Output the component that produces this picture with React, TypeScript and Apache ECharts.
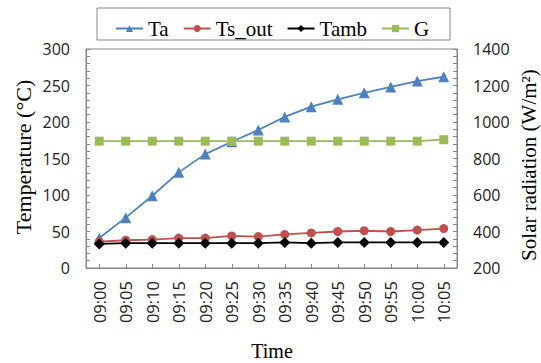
import React, { useEffect, useRef } from "react";
import * as echarts from "echarts";

const categories = ["09:00", "09:05", "09:10", "09:15", "09:20", "09:25", "09:30", "09:35", "09:40", "09:45", "09:50", "09:55", "10:00", "10:05"];
const ta = [41, 69, 99, 131, 156, 173, 189, 207, 221, 231, 240, 248, 256, 262];
const tsOut = [36, 38, 39, 41, 41, 44, 43, 46, 48, 50, 51, 50, 52, 54];
const tamb = [33, 34, 34, 34, 34, 34, 34, 35, 34, 35, 35, 35, 35, 35];
const g = [895, 895, 895, 895, 895, 895, 895, 895, 895, 895, 895, 895, 895, 903];

const serif = "'Liberation Serif', 'Times New Roman', serif";
const sans = "'Open Sans', 'Liberation Sans', sans-serif";
const axisGray = "#868686";

export default function App() {
  const ref = useRef<HTMLDivElement>(null);
  useEffect(() => {
    if (!ref.current) return;
    const chart = echarts.init(ref.current, null, { renderer: "svg" });
    const tickCommon = { show: true, inside: true, length: 4, lineStyle: { color: axisGray } };
    chart.setOption({
      animation: false,
      backgroundColor: "#fff",
      grid: { left: 86, right: 84, top: 49, bottom: 95, show: true, borderColor: axisGray, borderWidth: 1 },
      legend: {
        left: 110,
        top: 13,
        itemWidth: 27,
        itemHeight: 9,
        itemGap: 14,
        textStyle: { fontFamily: serif, fontSize: 21, color: "#000" },
        data: ["Ta", "Ts_out", "Tamb", "G"],
      },
      xAxis: {
        type: "category",
        data: categories,
        boundaryGap: true,
        axisLine: { lineStyle: { color: axisGray } },
        axisTick: { ...tickCommon, alignWithLabel: true },
        axisLabel: { rotate: 90, fontFamily: sans, fontSize: 16.5, color: "#222", margin: 13, interval: 0 },
      },
      yAxis: [
        {
          type: "value",
          min: 0,
          max: 300,
          interval: 50,
          axisLine: { show: true, lineStyle: { color: axisGray } },
          axisTick: tickCommon,
          minorTick: { show: true, splitNumber: 5, length: 4, lineStyle: { color: axisGray } },
          splitLine: { show: false },
          axisLabel: { fontFamily: sans, fontSize: 16, color: "#222", margin: 16 },
        },
        {
          type: "value",
          min: 200,
          max: 1400,
          interval: 200,
          position: "right",
          axisLine: { show: true, lineStyle: { color: axisGray } },
          axisTick: tickCommon,
          minorTick: { show: true, splitNumber: 5, length: 4, lineStyle: { color: axisGray } },
          splitLine: { show: false },
          axisLabel: { fontFamily: sans, fontSize: 16, color: "#222", margin: 16, formatter: (v: number) => String(v) },
        },
      ],
      graphic: [
        { type: "rect", shape: { x: 97, y: 8, width: 353, height: 32 }, style: { fill: "none", stroke: axisGray, lineWidth: 1 } },
        { type: "text", x: 23, y: 157, rotation: Math.PI / 2, style: { text: "Temperature (°C)", font: `22px ${serif}`, fill: "#000", align: "center", verticalAlign: "middle" } },
        { type: "text", x: 529, y: 165, rotation: Math.PI / 2, style: { text: "Solar radiation (W/m²)", font: `21px ${serif}`, fill: "#000", align: "center", verticalAlign: "middle" } },
        { type: "text", x: 272, y: 351, style: { text: "Time", font: `20px ${serif}`, fill: "#000", align: "center", verticalAlign: "middle" } },
      ],
      series: [
        { name: "Ta", type: "line", data: ta, yAxisIndex: 0, symbol: "triangle", symbolSize: 11, itemStyle: { color: "#4F81BD" }, lineStyle: { color: "#4F81BD", width: 1.8 } },
        { name: "Ts_out", type: "line", data: tsOut, yAxisIndex: 0, symbol: "circle", symbolSize: 9, itemStyle: { color: "#C0504D" }, lineStyle: { color: "#C0504D", width: 1.8 } },
        { name: "Tamb", type: "line", data: tamb, yAxisIndex: 0, symbol: "diamond", symbolSize: 11, itemStyle: { color: "#000" }, lineStyle: { color: "#000", width: 1.8 } },
        { name: "G", type: "line", data: g, yAxisIndex: 1, symbol: "rect", symbolSize: 9, itemStyle: { color: "#9BBB59" }, lineStyle: { color: "#9BBB59", width: 1.8 } },
      ],
    });
    return () => chart.dispose();
  }, []);
  return <div ref={ref} style={{ width: 541, height: 363, position: "absolute", left: 0, top: 0 }} />;
}
